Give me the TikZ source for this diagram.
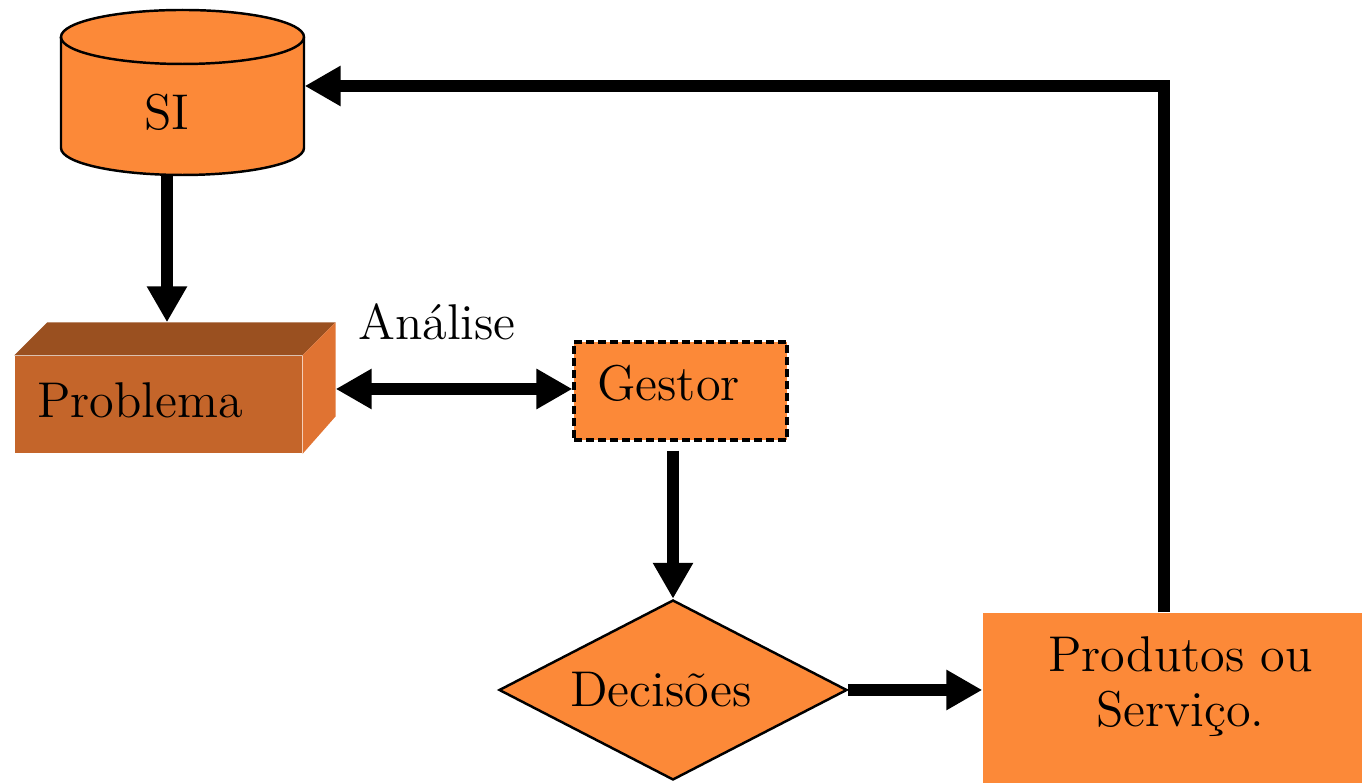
\documentclass[tikz,border=0pt]{standalone}
\usepackage{fontspec}
\usepackage{tikz}
\usetikzlibrary{arrows.meta,shapes.geometric}
\definecolor{laranja}{RGB}{252,137,56}
\definecolor{frente}{RGB}{196,101,42}
\definecolor{topo}{RGB}{154,80,32}
\definecolor{lado}{RGB}{224,115,50}
\begin{document}
\begin{tikzpicture}[
	every node/.style={font=\fontsize{14.3}{15.6}\selectfont},
	fluxo/.style={line width=3.4pt,-{Triangle[length=0.36cm,width=0.38cm]}},
	fluxoduplo/.style={line width=3.4pt,{Triangle[length=0.36cm,width=0.38cm]}-{Triangle[length=0.36cm,width=0.38cm]}},
	caixa/.style={fill=laranja,inner sep=0pt},
	contorno/.style={line width=0.7pt}
	]
	\useasboundingbox (0,0) rectangle (13.62,7.83);
	
	% SI (cilindro)
	\node[inner sep=0pt,minimum width=2.43cm,minimum height=1.65cm] (si) at (1.825,6.905) {};
	\filldraw[fill=laranja,contorno] (0.61,7.46) -- (0.61,6.35) arc[start angle=180,end angle=360,x radius=1.215cm,y radius=0.27cm] -- (3.04,7.46) arc[start angle=0,end angle=180,x radius=1.215cm,y radius=0.27cm] -- cycle;
	\draw[contorno] (0.61,7.46) arc[start angle=180,end angle=360,x radius=1.215cm,y radius=0.27cm];
	\node (silabel) at (1.67,6.71) {SI};
	
	% Problema (bloco)
	\node[fill=frente,inner ysep=0pt,minimum width=2.87cm,minimum height=0.97cm,text width=2.43cm,inner xsep=0.22cm,align=left,text depth=0.09cm] (prob) at (1.585,3.785) {Problema};
	\fill[topo] (prob.north west) -- ++(0.33,0.33) -- ([shift={(0.33,0.33)}]prob.north east) -- (prob.north east) -- cycle;
	\fill[lado] (prob.north east) -- ++(0.33,0.33) -- ++(0,-0.94) -- (prob.south east) -- cycle;
	\coordinate (probtopo) at ([yshift=0.33cm]prob.north);
	\coordinate (problado) at ([shift={(0.33,0.155)}]prob.east);
	
	% Gestor
	\node[fill=laranja,draw,line width=0.9pt,dash pattern=on 0.08cm off 0.04cm,inner ysep=0pt,minimum width=2.13cm,minimum height=0.98cm,text width=1.67cm,inner xsep=0.23cm,align=left,text depth=0.16cm] (gestor) at (6.805,3.92) {Gestor};
	\node (analise) at (4.37,4.61) {Análise};
	
	% Decisoes e Produtos
	\node[diamond,aspect=1.93,fill=laranja,draw,contorno,inner sep=0pt,minimum width=3.48cm,minimum height=1.80cm] (dec) at (6.73,0.93) {Decisões\hspace*{0.24cm}};
	\node[caixa,minimum width=3.79cm,minimum height=1.70cm] (prod) at (11.725,0.85) {};
	\node[align=center] (prodtexto) at ([shift={(0.08,0.11)}]prod.center) {Produtos ou\\Serviço.};
	\coordinate (canto) at (11.64,6.97);
	
	% setas
	\draw[fluxo] (si.south -| silabel) -- (probtopo -| silabel);
	\draw[fluxoduplo] (problado) -- (problado -| gestor.west);
	\draw[fluxo,shorten <=0.09cm] (dec.north |- gestor.south) -- (dec.north);
	\draw[fluxo] (dec.east) -- (dec.east -| prod.west);
	\draw[fluxo] (prod.north -| canto) -- (canto) -- (si.east |- canto);
\end{tikzpicture}
\end{document}
